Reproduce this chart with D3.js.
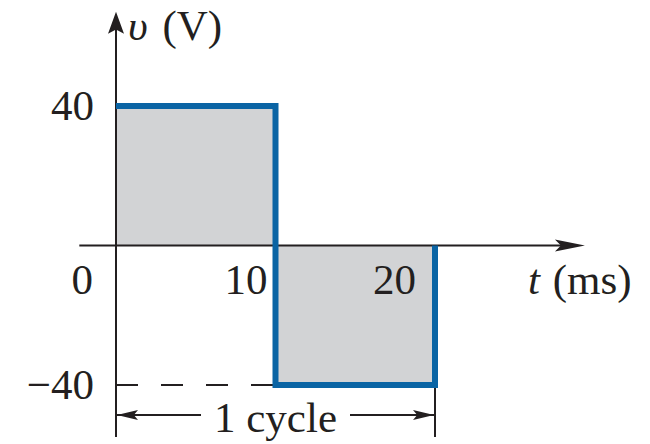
<!DOCTYPE html>
<html>
<head>
<meta charset="utf-8">
<script src="https://cdn.jsdelivr.net/npm/d3@7"></script>
<style>
  body { margin: 0; background: #fff; }
  text { font-family: "Liberation Serif", "Times New Roman", serif; fill: #231f20; }
</style>
</head>
<body>
<svg id="drawing_region"></svg>
<script>
// square wave, one cycle (t in ms, v in V)
const waveT = [0, 10, 10, 20, 20];
const waveV = [40, 40, -40, -40, 0];
const areaStart = [0, 10];
const areaEnd = [10, 20];
const areaLevel = [40, -40];
const xTicks = [0, 10, 20];
const xTickLabels = ["0", "10", "20"];
const yTicks = [40, -40];
const yTickLabels = ["40", "\u221240"];
const xAxisExtent = [-2.3, 29.4];
const yAxisExtent = [-54.9, 67.0];
const cycle = [0, 20];

const config = {
    width: 650,
    height: 444,
    fontSize: 43,
    blue: "#0a64a4",
    gray: "#d2d3d5",
    ink: "#231f20",
};

const svg = d3.select('#drawing_region')
    .attr('width', config.width)
    .attr('height', config.height);

const xscale = d3.scaleLinear().domain([0, 20]).range([116, 435]);
const yscale = d3.scaleLinear().domain([-40, 40]).range([385, 106]);

// shaded areas
svg.selectAll("rect.area")
    .data(areaStart)
    .enter()
    .append("rect")
    .attr("class", "area")
    .attr("x", (d, i) => xscale(d))
    .attr("width", (d, i) => xscale(areaEnd[i]) - xscale(d))
    .attr("y", (d, i) => Math.min(yscale(areaLevel[i]), yscale(0)))
    .attr("height", (d, i) => Math.abs(yscale(areaLevel[i]) - yscale(0)))
    .attr("fill", config.gray);

// axes
const axes = svg.append("g")
    .attr("stroke", config.ink)
    .attr("stroke-width", 2);

axes.append("line")
    .attr("x1", xscale(xAxisExtent[0]))
    .attr("x2", xscale(xAxisExtent[1]) - 20)
    .attr("y1", yscale(0))
    .attr("y2", yscale(0));

axes.append("line")
    .attr("x1", xscale(0))
    .attr("x2", xscale(0))
    .attr("y1", yscale(yAxisExtent[0]))
    .attr("y2", yscale(yAxisExtent[1]) + 15);

function arrowHead(x, y, dir, len, half) {
    // dir: "right", "left", "up"
    let pts;
    if (dir === "right") pts = [[x, y], [x - len, y - half], [x - len * 0.8, y], [x - len, y + half]];
    if (dir === "left") pts = [[x, y], [x + len, y - half], [x + len * 0.8, y], [x + len, y + half]];
    if (dir === "up") pts = [[x, y], [x - half, y + len], [x, y + len * 0.8], [x + half, y + len]];
    svg.append("path")
        .attr("d", d3.line()(pts) + "Z")
        .attr("fill", config.ink);
}

arrowHead(xscale(xAxisExtent[1]), yscale(0), "right", 30, 6);
arrowHead(xscale(0), yscale(yAxisExtent[1]), "up", 22, 8);

// dashed level at -40
svg.append("line")
    .attr("x1", xscale(0))
    .attr("x2", xscale(10))
    .attr("y1", yscale(-40))
    .attr("y2", yscale(-40))
    .attr("stroke", config.ink)
    .attr("stroke-width", 2)
    .attr("stroke-dasharray", "22,23");

// waveform
const line = d3.line()
    .x((d, i) => xscale(waveT[i]))
    .y((d, i) => yscale(waveV[i]));

svg.append("path")
    .attr("d", line(waveT))
    .attr("fill", "none")
    .attr("stroke", config.blue)
    .attr("stroke-width", 6)
    .attr("stroke-linejoin", "miter");

// one cycle dimension
const cycleY = yscale(-40) + 30;
svg.append("line")
    .attr("x1", xscale(cycle[1]))
    .attr("x2", xscale(cycle[1]))
    .attr("y1", yscale(-40) + 3)
    .attr("y2", yscale(yAxisExtent[0]))
    .attr("stroke", config.ink)
    .attr("stroke-width", 2);

svg.append("line")
    .attr("x1", xscale(cycle[0]))
    .attr("x2", xscale(cycle[0]) + 85)
    .attr("y1", cycleY).attr("y2", cycleY)
    .attr("stroke", config.ink).attr("stroke-width", 2);
svg.append("line")
    .attr("x1", xscale(cycle[1]) - 85)
    .attr("x2", xscale(cycle[1]))
    .attr("y1", cycleY).attr("y2", cycleY)
    .attr("stroke", config.ink).attr("stroke-width", 2);
arrowHead(xscale(cycle[0]) + 1, cycleY, "left", 21, 5);
arrowHead(xscale(cycle[1]) - 1, cycleY, "right", 21, 5);

svg.append("text")
    .attr("x", (xscale(cycle[0]) + xscale(cycle[1])) / 2)
    .attr("y", cycleY + 17)
    .attr("text-anchor", "middle")
    .attr("font-size", config.fontSize)
    .text("1 cycle");

// tick labels
const xOffsets = [-23, -8, -19];
svg.selectAll("text.xtick")
    .data(xTicks)
    .enter()
    .append("text")
    .attr("class", "xtick")
    .attr("x", (d, i) => xscale(d) + xOffsets[i])
    .attr("y", yscale(0) + 48)
    .attr("text-anchor", "end")
    .attr("font-size", config.fontSize)
    .text((d, i) => xTickLabels[i]);

svg.selectAll("text.ytick")
    .data(yTicks)
    .enter()
    .append("text")
    .attr("class", "ytick")
    .attr("x", xscale(0) - 22)
    .attr("y", d => yscale(d) + 14)
    .attr("text-anchor", "end")
    .attr("font-size", config.fontSize)
    .text((d, i) => yTickLabels[i]);

// axis titles
const ylab = svg.append("text")
    .attr("x", 128)
    .attr("y", 40)
    .attr("font-size", config.fontSize);
ylab.append("tspan").attr("font-style", "italic").text("\u03c5");
ylab.append("tspan").attr("dx", 4).text(" (V)");

const xlab = svg.append("text")
    .attr("x", 528)
    .attr("y", 294)
    .attr("font-size", config.fontSize);
xlab.append("tspan").attr("font-style", "italic").text("t");
xlab.append("tspan").attr("dx", 2).text(" (ms)");
</script>
</body>
</html>
